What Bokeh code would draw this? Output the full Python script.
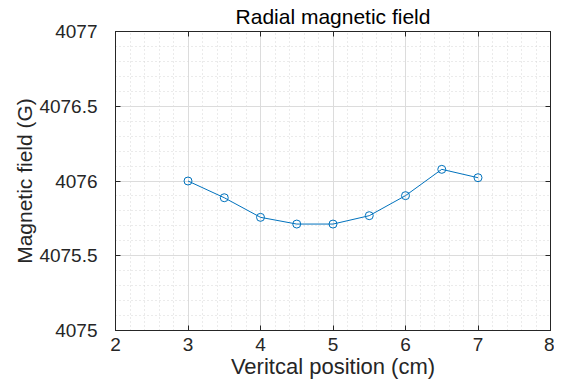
from bokeh.plotting import figure
from bokeh.models import LinearAxis, SingleIntervalTicker, Range1d
from bokeh.embed import file_html
from bokeh.resources import INLINE

x_pos = [3, 3.5, 4, 4.5, 5, 5.5, 6, 6.5, 7]
b_field = [4076.0, 4075.888, 4075.757, 4075.712, 4075.712, 4075.768, 4075.902, 4076.078, 4076.022]
y_ticks = [4075, 4075.5, 4076, 4076.5, 4077]
y_tick_labels = ["4075", "4075.5", "4076", "4076.5", "4077"]

FONT = "Liberation Sans"
AX = "#262626"

p = figure(width=554, height=381, output_backend="svg", toolbar_location=None,
           x_range=Range1d(2, 8), y_range=Range1d(4075, 4077),
           min_border_left=115, min_border_right=1, min_border_top=31, min_border_bottom=51,
           title="Radial magnetic field")

p.title.text_font = FONT
p.title.text_font_size = "21px"
p.title.text_font_style = "normal"
p.title.text_color = "#000000"
p.title.align = "center"
p.title.standoff = 0
p.title.offset = 0

p.outline_line_color = AX
p.outline_line_width = 1

def xt():
    return SingleIntervalTicker(interval=1, num_minor_ticks=5)

def yt():
    return SingleIntervalTicker(interval=0.5, num_minor_ticks=5)

for ax in (p.xaxis[0], p.yaxis[0]):
    ax.major_tick_in = 5
    ax.major_tick_out = 0
    ax.minor_tick_line_color = None
    ax.axis_line_color = AX
    ax.major_tick_line_color = AX
    ax.major_label_text_font = FONT
    ax.major_label_text_font_size = "19px"
    ax.major_label_text_color = AX
    ax.axis_label_text_font = FONT
    ax.axis_label_text_font_style = "normal"
    ax.axis_label_text_color = AX

p.xaxis[0].ticker = xt()
p.yaxis[0].ticker = yt()
p.xaxis[0].axis_label = "Veritcal position (cm)"
p.yaxis[0].axis_label = "Magnetic field (G)"
p.xaxis[0].axis_label_text_font_size = "22px"
p.yaxis[0].axis_label_text_font_size = "21px"
p.xaxis[0].major_label_standoff = 3
p.xaxis[0].axis_label_standoff = 0
p.yaxis[0].major_label_standoff = 14
p.yaxis[0].axis_label_standoff = 0
p.yaxis[0].major_label_overrides = {t: l for t, l in zip(y_ticks, y_tick_labels)}

for loc, tk in (("right", yt()), ("above", xt())):
    a = LinearAxis(ticker=tk)
    a.major_tick_in = 5
    a.major_tick_out = 0
    a.minor_tick_line_color = None
    a.axis_line_color = AX
    a.major_tick_line_color = AX
    a.major_label_text_font_size = "0px"
    a.major_label_standoff = 0
    a.major_label_text_alpha = 0
    p.add_layout(a, loc)

p.xgrid[0].ticker = xt()
p.ygrid[0].ticker = yt()
for g in (p.xgrid[0], p.ygrid[0]):
    g.grid_line_color = "#dcdcdc"
    g.grid_line_width = 1
    g.minor_grid_line_color = "#d6d6d6"
    g.minor_grid_line_dash = "1 3"
    g.minor_grid_line_width = 1

color = "#0072BD"
p.line(x_pos, b_field, line_color=color, line_width=1)
p.scatter(x_pos, b_field, marker="circle", size=8, fill_color=None, line_color=color, line_width=1)

open("out.html", "w").write(file_html(p, INLINE))
